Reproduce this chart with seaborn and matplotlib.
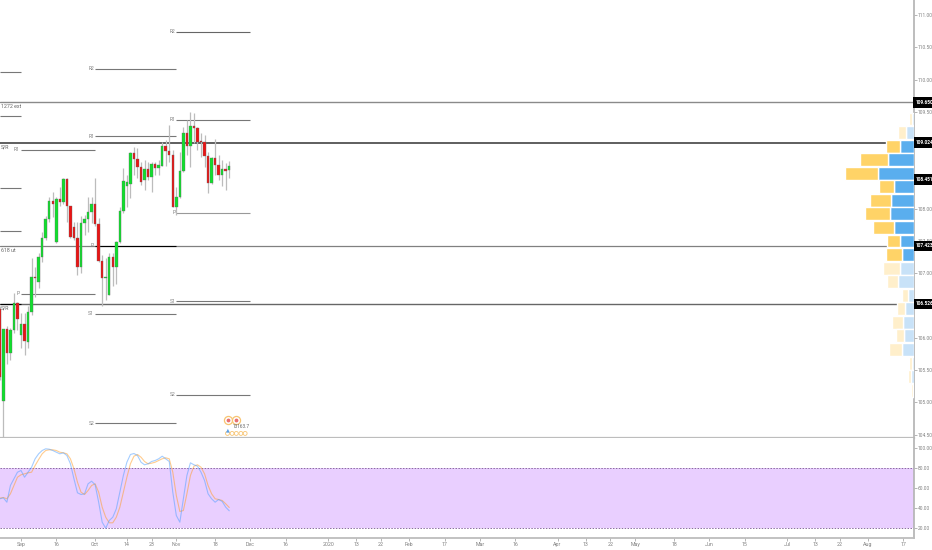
import numpy as np
import pandas as pd
import seaborn as sns
import matplotlib.pyplot as plt

# daily candles, first bar sits left of the 'Sep' tick
first_bar = -6
opens = [106.44, 105.03, 106.13, 105.76, 106.12, 106.54, 106.05, 106.22, 105.93, 106.40, 106.94, 106.86,
         107.25, 107.54, 107.84, 108.12, 107.48, 108.15, 108.10, 108.46, 108.04, 107.71, 107.54, 107.09,
         107.78, 107.84, 107.95, 108.07, 107.76, 107.19, 106.92, 106.67, 107.25, 107.09, 107.48, 107.96,
         108.35, 108.38, 108.86, 108.77, 108.64, 108.44, 108.61, 108.49, 108.69, 108.63, 108.66, 108.97,
         108.89, 108.83, 108.02, 108.18, 108.58, 109.17, 108.97, 109.28, 109.25, 109.05, 109.03, 108.81,
         108.40, 108.78, 108.67, 108.53, 108.61, 108.60]
highs = [106.50, 106.13, 106.19, 106.15, 106.69, 106.55, 106.38, 106.38, 106.50, 107.23, 107.09, 107.31,
         107.64, 107.88, 108.18, 108.26, 108.18, 108.33, 108.47, 108.47, 108.05, 107.79, 107.79, 107.88,
         107.90, 108.18, 108.18, 108.47, 107.85, 107.29, 107.23, 107.31, 107.31, 107.50, 108.02, 108.63,
         108.52, 108.88, 108.95, 108.94, 108.72, 108.75, 108.72, 108.72, 108.72, 108.75, 109.03, 109.06,
         109.29, 108.91, 108.33, 108.88, 109.26, 109.37, 109.50, 109.48, 109.26, 109.17, 109.14, 108.88,
         108.80, 109.08, 108.83, 108.75, 108.71, 108.74]
lows = [105.34, 104.40, 105.60, 105.65, 106.07, 106.12, 105.85, 105.74, 105.84, 106.35, 106.63, 106.78,
        107.17, 107.51, 107.79, 107.87, 107.47, 108.05, 108.08, 107.79, 107.54, 107.51, 106.97, 107.00,
        107.59, 107.64, 107.78, 107.74, 107.17, 106.49, 106.58, 106.66, 106.81, 106.83, 107.47, 107.93,
        108.02, 108.16, 108.52, 108.47, 108.36, 108.29, 108.44, 108.26, 108.52, 108.52, 108.66, 108.66,
        108.72, 108.02, 107.90, 108.16, 108.57, 108.83, 108.64, 109.02, 108.91, 108.80, 108.64, 108.24,
        108.38, 108.52, 108.44, 108.35, 108.29, 108.47]
closes = [105.40, 106.13, 105.76, 106.12, 106.54, 106.29, 106.22, 105.95, 106.40, 106.94, 106.92, 107.25,
          107.54, 107.84, 108.12, 108.08, 108.15, 108.10, 108.46, 108.04, 107.56, 107.54, 107.09, 107.78,
          107.84, 107.95, 108.07, 107.76, 107.19, 106.92, 106.94, 107.25, 107.09, 107.48, 107.96, 108.43,
          108.41, 108.86, 108.77, 108.64, 108.41, 108.61, 108.49, 108.69, 108.63, 108.67, 108.97, 108.89,
          108.83, 108.02, 108.18, 108.58, 109.17, 108.97, 109.28, 109.25, 109.03, 109.03, 108.81, 108.40,
          108.78, 108.67, 108.53, 108.61, 108.59, 108.66]

# stochastic pane
stoch_k = [48.7, 49.7, 45.3, 62, 68.7, 75.3, 77, 70.3, 75.3, 80.3, 88.7, 93.7, 97, 98.7, 98.3, 97, 95.3, 93.7,
           94.7, 92, 83.7, 68.7, 54.7, 53, 53.7, 63.7, 66.3, 62.7, 45.3, 25.3, 19.3, 27, 30.3, 38.7, 55.3, 72,
           85.3, 93, 94, 92, 85.3, 82.7, 83.7, 86, 87, 88.7, 91.3, 88.7, 86, 55.3, 32, 25.3, 48.7, 72, 84.7,
           82.7, 81.3, 75.3, 67, 53.7, 48.7, 45.3, 48, 46, 40.3, 36.7]
stoch_d = [49.3, 50, 48.7, 53.7, 62, 70.3, 72.7, 73.7, 74.7, 75.3, 82, 88, 93.7, 97, 97.7, 97.7, 97, 95.3, 94.7,
           93.7, 88.7, 78.7, 65.3, 55.3, 53, 57, 62, 63.7, 55.3, 40.3, 30.3, 24.7, 24.7, 30.3, 40.3, 55.3, 70.3,
           83.7, 91.3, 93, 90.3, 86, 83.7, 84.3, 85.3, 87, 88.7, 89.7, 88.7, 75.3, 52, 36, 37, 53.7, 72, 81.3,
           82.7, 80.3, 73.7, 62, 53.7, 48.7, 48, 47, 43.7, 40]

# volume profile, top row first
vp_price = [109.39, 109.18, 108.97, 108.76, 108.55, 108.34, 108.13, 107.92, 107.71, 107.50, 107.29,
            107.08, 106.87, 106.66, 106.45, 106.24, 106.03, 105.82, 105.61, 105.40, 105.19]
vp_up = [2, 7.3, 13.7, 26, 36, 19.3, 22.7, 24, 19.7, 13.7, 12, 14, 15.3, 6, 8.7, 11, 9.7, 11.7, 1.7, 2.3, 1]
vp_down = [2.7, 8.7, 13.7, 27.7, 33, 15.3, 21, 24.3, 21, 12.7, 15.3, 16.7, 11.7, 5.7, 8, 10.7, 8.3, 13.3, 3.3, 3.7, 2]
vp_value_area = [0, 0, 1, 1, 1, 1, 1, 1, 1, 1, 1, 0, 0, 0, 0, 0, 0, 0, 0, 0, 0]

# pivots: label, from bar, to bar, price
pivot_labels = ["", "", "", "", "", "R1", "P", "R2", "R1", "P", "S1", "S2", "R2", "R1", "P", "S1", "S2"]
pivot_start = [-6, -6, -6, -6, -6, 0, 0, 21, 21, 21, 21, 21, 44, 44, 44, 44, 44]
pivot_end = [0, 0, 0, 0, 0, 21, 21, 44, 44, 44, 44, 44, 65, 65, 65, 65, 65]
pivot_price = [110.12, 109.44, 108.32, 107.65, 106.53, 108.91, 106.68, 110.17, 109.12, 107.43, 106.37,
               104.68, 110.74, 109.38, 107.94, 106.57, 105.12]
pivot_color = ["#777777", "#777777", "#777777", "#777777", "black", "#777777", "#777777", "#777777", "#777777",
               "black", "#777777", "#777777", "#666666", "#777777", "#999999", "#777777", "#777777"]

levels = [109.650, 109.024, 107.423, 106.526]
level_color = ["#8a8a8a", "#333333", "#808080", "#666666"]
level_lw = [1.0, 1.1, 0.9, 1.0]
tags = [109.650, 109.024, 108.451, 107.423, 106.526]
level_notes = ["1272 ext", "S/R", "618 ut", "S/R"]

# 109.0 and 106.5 sit right behind the black tags, so they do not show
price_ticks = [104.5, 105, 105.5, 106, 107, 107.5, 108, 108.5, 109.5, 110, 110.5, 111]
stoch_ticks = [20, 40, 60, 80, 100]
date_bars = [0, 10, 21, 30, 37, 44, 55, 65, 75, 87, 95, 102, 110, 120, 130, 140, 152, 160, 167, 174, 185,
             195, 205, 217, 225, 232, 240, 250]
date_labels = ["Sep", "16", "Oct", "14", "23", "Nov", "18", "Dec", "16", "2020", "13", "22", "Feb", "17", "Mar",
               "16", "Apr", "13", "22", "May", "18", "Jun", "15", "Jul", "13", "22", "Aug", "17"]

sns.set_theme(style="white")
plt.rcParams['font.family'] = ['Roboto', 'DejaVu Sans']

W, H = 932, 550
fig = plt.figure(figsize=(W / 100, H / 100), dpi=100)
ax = fig.add_axes([0, (H - 437.5) / H, 913.5 / W, 437.5 / H])
ax2 = fig.add_axes([0, (H - 537.5) / H, 913.5 / W, 100 / H])

grey = "#808080"
bars = np.arange(len(opens)) + first_bar
df = pd.DataFrame({"bar": bars, "open": opens, "high": highs, "low": lows, "close": closes})
df["up"] = df.close >= df.open

# levels, pivots
for p, c, lw in zip(levels, level_color, level_lw):
    ax.axhline(p, color=c, lw=lw, zorder=1)
for lab, a, b, p, c in zip(pivot_labels, pivot_start, pivot_end, pivot_price, pivot_color):
    ax.plot([a, b], [p, p], color=c, lw=0.8, zorder=2, solid_capstyle="butt")
    ax.text(a - 0.3, p, lab, ha="right", va="center", fontsize=3.6, color=grey)
for p, note in zip(levels, level_notes):
    ax.text(-5.65, p - 0.03, note, ha="left", va="top", fontsize=3.8, color="#666666")

# candles
ax.vlines(df.bar, df.low, df.high, color="#bcbcbc", lw=0.9, zorder=3)
ax.bar(df.bar, (df.close - df.open).abs().clip(lower=0.02), bottom=df[["open", "close"]].min(axis=1),
       width=0.7, color=np.where(df.up, "#10e02c", "#ea1414"), edgecolor="#666666", linewidth=0.25, zorder=4)

# the little eyes sticker at the bottom
ax.scatter([58.6, 60.8], [104.73, 104.73], s=34, facecolor="white", edgecolor="#f8c471", lw=0.9, zorder=5)
ax.scatter([58.6, 60.8], [104.73, 104.73], s=3, color="#e87070", zorder=6)
ax.scatter([58.5, 59.8, 61, 62.3, 63.5], [104.52] * 5, s=8, facecolor="none", edgecolor="#f8c471", lw=0.6, zorder=5)
ax.text(60, 104.62, "13163.7", fontsize=3.4, color="#666666", va="center", zorder=7)
ax.text(58.2, 104.57, "\u25b2", fontsize=3.5, color="#5aa0e8", va="center", zorder=7)

ax.set_xlim(-5.95, 252.85)
ax.set_ylim(104.457, 111.2326)

# volume profile on its own x scale, measured from the right edge
vp = ax.twiny()
vp.set_xlim(913.5, 0)
vp.set_ylim(ax.get_ylim())
for i, p in enumerate(vp_price):
    solid = vp_value_area[i]
    vp.barh(p, vp_up[i], height=0.2, color="#5aaeee" if solid else "#c8e2f8", zorder=2)
    vp.barh(p, vp_down[i], left=vp_up[i], height=0.2, color="#ffd367" if solid else "#ffefcb", zorder=2)
vp.set_axis_off()

ax.yaxis.tick_right()
ax.set_yticks(price_ticks)
ax.set_yticklabels([f"{t:.3f}" for t in price_ticks])
ax.tick_params(axis="y", labelsize=3.5, labelcolor=grey, length=2, width=0.5, color="#999999", pad=1)
ax.set_xticks([])
for s in ["top", "left"]:
    ax.spines[s].set_visible(False)
ax.spines["right"].set_color("#b5b5b5")
ax.spines["bottom"].set_color("#bdbdbd")
ax.spines["bottom"].set_linewidth(1.6)

tr = ax.get_yaxis_transform()
for t in tags:
    ax.text(1.0022, t, f"{t:.3f}", transform=tr, ha="left", va="center", fontsize=3.4, color="white",
            fontweight="bold", clip_on=False, zorder=20,
            bbox=dict(boxstyle="square,pad=0.6", fc="black", ec="none"))

# stochastic
ax2.axhspan(20, 80, color="#e9cfff", lw=0, zorder=0)
for v in [20, 80]:
    ax2.axhline(v, color="#8a6aa0", lw=0.7, ls=(0, (1.5, 1.5)), zorder=1)
sd = pd.DataFrame({"bar": bars, "k": stoch_k, "d": stoch_d})
sns.lineplot(data=sd, x="bar", y="d", ax=ax2, color="#ff9a1f", lw=0.8, alpha=0.5, zorder=3)
sns.lineplot(data=sd, x="bar", y="k", ax=ax2, color="#4a9cff", lw=0.8, alpha=0.5, zorder=4)
ax2.set_xlim(ax.get_xlim())
ax2.set_ylim(10, 110)
ax2.set_xlabel("")
ax2.set_ylabel("")
ax2.yaxis.tick_right()
ax2.set_yticks(stoch_ticks)
ax2.set_yticklabels([f"{t:.2f}" for t in stoch_ticks])
ax2.tick_params(axis="y", labelsize=3.5, labelcolor=grey, length=2, width=0.5, color="#999999", pad=1)
ax2.set_xticks(date_bars)
ax2.set_xticklabels(date_labels)
ax2.tick_params(axis="x", labelsize=3.8, labelcolor=grey, length=2, width=0.5, color="#999999", pad=1.5, bottom=True)
for s in ["top", "left"]:
    ax2.spines[s].set_visible(False)
ax2.spines["right"].set_color("#b5b5b5")
ax2.spines["bottom"].set_color("#bdbdbd")
ax2.spines["bottom"].set_linewidth(1.3)

plt.savefig("out.png", dpi=100)
